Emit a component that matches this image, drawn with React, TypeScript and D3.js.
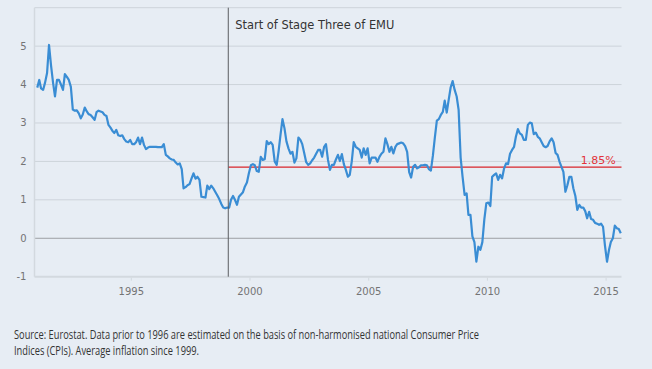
import React from "react";
import * as d3 from "d3";

// Monthly euro area HICP inflation (% y/y), Jan 1991 – Aug 2015
const cpi1991to1998 = [
  3.92, 4.12, 3.9, 3.86, 4.05, 4.3, 5.03, 4.5, 4.05, 3.69, 4.12, 4.12,
  4.0, 3.86, 4.27, 4.2, 4.12, 3.94, 3.35, 3.32, 3.33, 3.25, 3.12, 3.22,
  3.4, 3.3, 3.23, 3.21, 3.15, 3.08, 3.28, 3.32, 3.3, 3.28, 3.21, 3.18,
  2.95, 2.88, 2.8, 2.74, 2.82, 2.68, 2.66, 2.68, 2.58, 2.52, 2.5, 2.56,
  2.45, 2.45, 2.5, 2.62, 2.45, 2.62, 2.43, 2.32, 2.36, 2.38, 2.38, 2.38,
  2.38, 2.37, 2.37, 2.37, 2.45, 2.17, 2.13, 2.08, 2.05, 2.04, 1.97, 1.92,
  1.95, 1.8, 1.3, 1.33, 1.38, 1.41, 1.55, 1.69, 1.55, 1.6, 1.52, 1.08,
  1.07, 1.06, 1.37, 1.28, 1.37, 1.3, 1.21, 1.12, 1.02, 0.9, 0.8, 0.78,
];

const cpi1999to2015 = [
  0.8, 0.8, 1.0, 1.1, 1.0, 0.87, 1.08, 1.14, 1.2, 1.35, 1.45, 1.69,
  1.9, 1.93, 1.9, 1.75, 1.73, 2.12, 2.04, 2.06, 2.53, 2.45, 2.5, 2.43,
  2.0, 1.91, 2.25, 2.7, 3.1, 2.86, 2.52, 2.34, 2.2, 2.25, 1.97, 2.08,
  2.62, 2.56, 2.45, 2.21, 1.98, 1.91, 1.95, 2.03, 2.1, 2.2, 2.3, 2.3,
  2.12, 2.38, 2.45, 2.04, 1.78, 1.91, 1.91, 2.05, 2.17, 2.01, 2.19, 1.93,
  1.78, 1.6, 1.65, 2.0, 2.5, 2.38, 2.34, 2.3, 2.1, 2.34, 2.17, 2.34,
  1.95, 2.1, 2.1, 2.1, 1.99, 2.12, 2.2, 2.25, 2.6, 2.45, 2.25, 2.38,
  2.21, 2.38, 2.45, 2.47, 2.49, 2.47, 2.4, 2.25, 1.72, 1.58, 1.86, 1.91,
  1.82, 1.85, 1.9, 1.9, 1.91, 1.9, 1.8, 1.76, 2.15, 2.62, 3.06, 3.1,
  3.21, 3.29, 3.58, 3.27, 3.6, 3.93, 4.09, 3.86, 3.69, 3.34, 2.1, 1.6,
  1.13, 1.17, 0.61, 0.61, 0.05, -0.1, -0.61, -0.22, -0.3, -0.1, 0.5, 0.91,
  0.93, 0.84, 1.6, 1.65, 1.69, 1.52, 1.65, 1.56, 1.82, 1.95, 1.93, 2.2,
  2.3, 2.38, 2.64, 2.84, 2.73, 2.69, 2.56, 2.56, 2.95, 3.01, 2.99, 2.71,
  2.75, 2.64, 2.6, 2.5, 2.4, 2.37, 2.4, 2.52, 2.6, 2.5, 2.22, 2.17,
  1.99, 1.85, 1.73, 1.21, 1.38, 1.6, 1.6, 1.3, 1.1, 0.74, 0.87, 0.8,
  0.8, 0.7, 0.52, 0.69, 0.5, 0.48, 0.4, 0.38, 0.35, 0.38, 0.3, -0.2,
  -0.61, -0.3, -0.1, 0.0, 0.33, 0.26, 0.24, 0.13,
];

const startYear = 1991;
const yGridValues = [-1, 0, 1, 2, 3, 4, 5, 6];
const yLabelValues = [-1, 0, 1, 2, 3, 4, 5];
const xTickYears = [1995, 2000, 2005, 2010, 2015];
const averageSince1999 = 1.85;
const averageLabel = "1.85%";
const emuStartDate = new Date(1999, 1, 1);
const annotationText = "Start of Stage Three of EMU";
const footerLines = [
  "Source: Eurostat. Data prior to 1996 are estimated on the basis of non-harmonised national Consumer Price",
  "Indices (CPIs). Average inflation since 1999.",
];

const W = 652;
const H = 369;
const plotLeft = 34.5;
const plotRight = 621.5;

export default function App() {
  const values = [...cpi1991to1998, ...cpi1999to2015];
  const data = values.map((v, i) => ({ date: new Date(startYear, i, 15), value: v }));

  const x = d3
    .scaleTime()
    .domain([new Date(1995, 0, 1), new Date(2015, 0, 1)])
    .range([131.3, 131.3 + 20 * 23.74]);
  const y = d3.scaleLinear().domain([-1, 6]).range([276.7, 7.7]);

  const line = d3
    .line<{ date: Date; value: number }>()
    .x((d) => x(d.date))
    .y((d) => y(d.value));

  const xEmu = x(emuStartDate);
  const yAvg = y(averageSince1999);
  const yTop = y(6);
  const yBottom = y(-1);

  return (
    <>
      <style>{`body{margin:0;background:#e7edf4;}`}</style>
      <svg width={W} height={H} style={{ display: "block", background: "#e7edf4" }}>
        {yGridValues
          .filter((v) => v !== 0 && v !== -1)
          .map((v) => (
            <line key={v} x1={plotLeft} x2={plotRight} y1={y(v)} y2={y(v)} stroke="#cdd3da" strokeWidth={1} />
          ))}
        <line x1={plotLeft} x2={plotRight} y1={y(0)} y2={y(0)} stroke="#9c9fa3" strokeWidth={1} />
        <line x1={plotLeft} x2={plotRight} y1={yBottom} y2={yBottom} stroke="#d3d9df" strokeWidth={2} />
        <line x1={plotLeft} x2={plotLeft} y1={yTop} y2={yBottom} stroke="#d3d9df" strokeWidth={1.5} />

        {yLabelValues.map((v) => (
          <text
            key={v}
            x={26.5}
            y={y(v)}
            dy="0.35em"
            textAnchor="end"
            fontFamily="DejaVu Sans, Verdana, sans-serif"
            fontSize={10}
            fill="#747474"
          >
            {v}
          </text>
        ))}

        {xTickYears.map((yr) => {
          const xx = x(new Date(yr, 0, 1));
          return (
            <g key={yr}>
              <line x1={xx} x2={xx} y1={yBottom + 1} y2={yBottom + 4} stroke="#d3d9df" strokeWidth={1} />
              <text
                x={xx}
                y={295.3}
                textAnchor="middle"
                fontFamily="DejaVu Sans, Verdana, sans-serif"
                fontSize={10}
                fill="#747474"
              >
                {yr}
              </text>
            </g>
          );
        })}

        <line x1={xEmu} x2={plotRight} y1={yAvg} y2={yAvg} stroke="#d9252b" strokeWidth={1.3} />
        <text
          x={615.8}
          y={164.3}
          textAnchor="end"
          fontFamily="DejaVu Sans, Verdana, sans-serif"
          fontSize={11}
          fill="#e2333a"
        >
          {averageLabel}
        </text>

        <path d={line(data) || ""} fill="none" stroke="#3a8dd4" strokeWidth={2.2} strokeLinejoin="round" />

        <line x1={xEmu} x2={xEmu} y1={yTop} y2={yBottom} stroke="#5a5d61" strokeWidth={1} />
        <text
          x={235.3}
          y={29.3}
          fontFamily="DejaVu Sans, Verdana, sans-serif"
          fontSize={12}
          fill="#333"
          textLength={159}
          lengthAdjust="spacingAndGlyphs"
        >
          {annotationText}
        </text>

        <text
          x={14}
          y={339.3}
          fontFamily="Open Sans, sans-serif"
          fontSize={12}
          fill="#333"
          textLength={465}
          lengthAdjust="spacingAndGlyphs"
        >
          {footerLines[0]}
        </text>
        <text
          x={14}
          y={355.3}
          fontFamily="Open Sans, sans-serif"
          fontSize={12}
          fill="#333"
          textLength={185}
          lengthAdjust="spacingAndGlyphs"
        >
          {footerLines[1]}
        </text>
      </svg>
    </>
  );
}
